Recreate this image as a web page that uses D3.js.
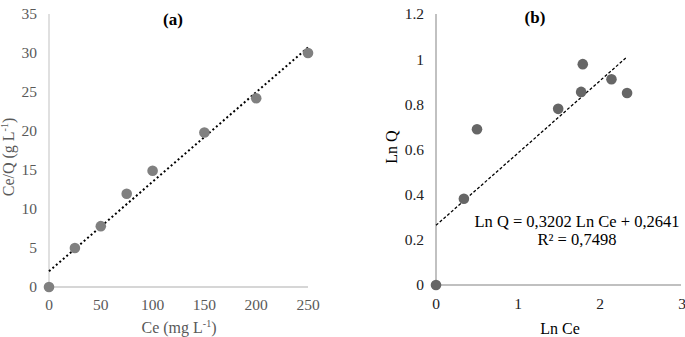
<!DOCTYPE html>
<html><head><meta charset="utf-8">
<script src="https://cdn.jsdelivr.net/npm/d3@7"></script>
<style>
body{margin:0;background:#fff;}
svg text{font-family:"Liberation Serif","Times New Roman",serif;}
</style></head>
<body><svg id="c" width="685" height="337"></svg>
<script>
// Chart (a): Langmuir
const ceA = [0, 25, 50, 75, 100, 150, 200, 250];
const ceqA = [0, 5.0, 7.8, 11.95, 14.9, 19.8, 24.2, 30.0];
const xTicksA = [0, 50, 100, 150, 200, 250];
const yTicksA = [0, 5, 10, 15, 20, 25, 30, 35];
// Chart (b): Freundlich
const lnCeB = [0, 0.34, 0.50, 1.49, 1.77, 1.79, 2.14, 2.33];
const lnQB = [0, 0.382, 0.69, 0.78, 0.855, 0.978, 0.911, 0.85];
const xTicksB = [0, 1, 2, 3];
const yTicksB = [0, 0.2, 0.4, 0.6, 0.8, 1, 1.2];
const fitB = {slope: 0.3202, intercept: 0.2641, xEnd: 2.33};
const eqLines = ["Ln Q = 0,3202 Ln Ce + 0,2641", "R² = 0,7498"];

const svg = d3.select("#c");

// ---------- (a) ----------
const xA = d3.scaleLinear().domain([0, 250]).range([49, 308]);
const yA = d3.scaleLinear().domain([0, 35]).range([287, 14]);
const gA = svg.append("g");
gA.append("line").attr("x1", xA(0)).attr("x2", xA(250)).attr("y1", yA(0)).attr("y2", yA(0))
  .attr("stroke", "#c9c9c9").attr("stroke-width", 1.3);
gA.append("line").attr("x1", xA(0)).attr("x2", xA(0)).attr("y1", yA(0)).attr("y2", yA(35))
  .attr("stroke", "#d0d0d0").attr("stroke-width", 1.3);
gA.selectAll(".yt").data(yTicksA).join("text")
  .attr("x", 37).attr("y", d => yA(d)).attr("dy", "0.35em").attr("text-anchor", "end")
  .attr("font-size", 15.5).attr("fill", "#595959").text(d => d);
gA.selectAll(".xt").data(xTicksA).join("text")
  .attr("x", d => xA(d)).attr("y", 310).attr("text-anchor", "middle")
  .attr("font-size", 15.5).attr("fill", "#595959").text(d => d);
// regression line
const mx = d3.mean(ceA), my = d3.mean(ceqA);
const slopeA = d3.sum(ceA.map((x, i) => (x - mx) * (ceqA[i] - my))) / d3.sum(ceA.map(x => (x - mx) ** 2));
const intA = my - slopeA * mx;
gA.append("line").attr("x1", xA(0)).attr("y1", yA(intA)).attr("x2", xA(250)).attr("y2", yA(intA + slopeA * 250))
  .attr("stroke", "#000").attr("stroke-width", 2).attr("stroke-dasharray", "2,2.6");
gA.selectAll("circle").data(ceA).join("circle")
  .attr("cx", d => xA(d)).attr("cy", (d, i) => yA(ceqA[i])).attr("r", 5.3).attr("fill", "#808080");
gA.append("text").attr("x", 173).attr("y", 25).attr("text-anchor", "middle")
  .attr("font-size", 17).attr("font-weight", "bold").attr("fill", "#000").text("(a)");
const yTitleA = gA.append("text").attr("transform", "translate(14,157) rotate(-90)")
  .attr("text-anchor", "middle").attr("font-size", 16).attr("fill", "#595959");
yTitleA.append("tspan").text("Ce/Q (g L");
yTitleA.append("tspan").attr("font-size", 10).attr("dy", -6).text("-1");
yTitleA.append("tspan").attr("dy", 6).text(")");
const xTitleA = gA.append("text").attr("x", 179).attr("y", 333).attr("text-anchor", "middle")
  .attr("font-size", 16).attr("fill", "#595959");
xTitleA.append("tspan").text("Ce (mg L");
xTitleA.append("tspan").attr("font-size", 10).attr("dy", -6).text("-1");
xTitleA.append("tspan").attr("dy", 6).text(")");

// ---------- (b) ----------
const xB = d3.scaleLinear().domain([0, 3]).range([436, 682]);
const yB = d3.scaleLinear().domain([0, 1.2]).range([285, 14]);
const gB = svg.append("g");
gB.append("line").attr("x1", xB(0)).attr("x2", 681).attr("y1", yB(0)).attr("y2", yB(0))
  .attr("stroke", "#ababab").attr("stroke-width", 1.3);
gB.append("line").attr("x1", xB(0)).attr("x2", xB(0)).attr("y1", yB(0)).attr("y2", yB(1.2))
  .attr("stroke", "#a0a0a0").attr("stroke-width", 1.3);
gB.selectAll(".yt").data(yTicksB).join("text")
  .attr("x", 424).attr("y", d => yB(d)).attr("dy", "0.35em").attr("text-anchor", "end")
  .attr("font-size", 15.5).attr("fill", "#222").text(d => d);
gB.selectAll(".xt").data(xTicksB).join("text")
  .attr("x", d => xB(d)).attr("y", 309).attr("text-anchor", "middle")
  .attr("font-size", 15.5).attr("fill", "#222").text(d => d);
gB.append("line").attr("x1", xB(0)).attr("y1", yB(fitB.intercept))
  .attr("x2", xB(fitB.xEnd)).attr("y2", yB(fitB.intercept + fitB.slope * fitB.xEnd))
  .attr("stroke", "#000").attr("stroke-width", 1.3).attr("stroke-dasharray", "3,2");
gB.selectAll("circle").data(lnCeB).join("circle")
  .attr("cx", d => xB(d)).attr("cy", (d, i) => yB(lnQB[i])).attr("r", 5.3).attr("fill", "#666");
gB.append("text").attr("x", 535).attr("y", 23).attr("text-anchor", "middle")
  .attr("font-size", 17).attr("font-weight", "bold").attr("fill", "#000").text("(b)");
gB.selectAll(".eq").data(eqLines).join("text")
  .attr("x", 577).attr("y", (d, i) => 227 + i * 18).attr("text-anchor", "middle")
  .attr("font-size", 16.5).attr("fill", "#000").text(d => d);
gB.append("text").attr("transform", "translate(397,147) rotate(-90)").attr("text-anchor", "middle")
  .attr("font-size", 16).attr("fill", "#000").text("Ln Q");
gB.append("text").attr("x", 560).attr("y", 334).attr("text-anchor", "middle")
  .attr("font-size", 16).attr("fill", "#000").text("Ln Ce");
</script></body></html>
